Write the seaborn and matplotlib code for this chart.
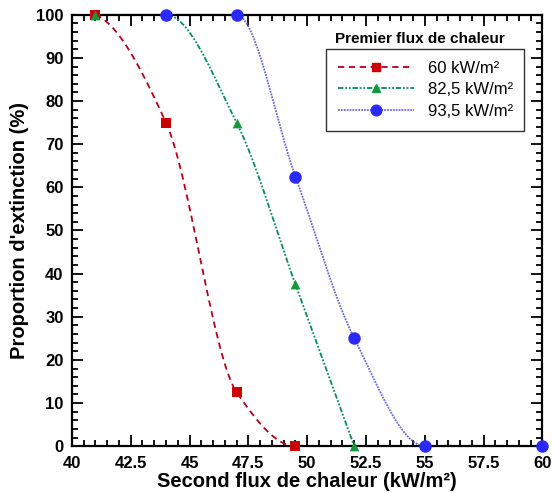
import numpy as np
import pandas as pd
import matplotlib
matplotlib.use("Agg")
import matplotlib.pyplot as plt
import seaborn as sns
from matplotlib.ticker import MultipleLocator, FixedLocator
from matplotlib.lines import Line2D

# Données
x_60 = [41, 44, 47, 49.5]
y_60 = [100, 75, 12.5, 0]
x_825 = [41, 44, 47, 49.5, 52]
y_825 = [100, 100, 75, 37.5, 0]
x_935 = [44, 47, 49.5, 52, 55, 60]
y_935 = [100, 100, 62.5, 25, 0, 0]
noms = ["60 kW/m²", "82,5 kW/m²", "93,5 kW/m²"]
xticks = [40, 42.5, 45, 47.5, 50, 52.5, 55, 57.5, 60]
xticklabels = ["40", "42.5", "45", "47.5", "50", "52.5", "55", "57.5", "60"]


# Lissage monotone (type PCHIP) pour le tracé des courbes
def lisser(x, y, n=60):
    x = np.asarray(x, float)
    y = np.asarray(y, float)
    h = np.diff(x)
    d = np.diff(y) / h
    m = np.zeros_like(x)
    for k in range(1, len(x) - 1):
        if d[k - 1] * d[k] > 0:
            w1 = 2 * h[k] + h[k - 1]
            w2 = h[k] + 2 * h[k - 1]
            m[k] = (w1 + w2) / (w1 / d[k - 1] + w2 / d[k])

    def bord(h0, h1, d0, d1):
        v = ((2 * h0 + h1) * d0 - h0 * d1) / (h0 + h1)
        if np.sign(v) != np.sign(d0):
            return 0.0
        if np.sign(d0) != np.sign(d1) and abs(v) > abs(3 * d0):
            return 3 * d0
        return v

    if len(x) > 2:
        m[0] = bord(h[0], h[1], d[0], d[1])
        m[-1] = bord(h[-1], h[-2], d[-1], d[-2])
    else:
        m[:] = d[0]
    xs, ys = [], []
    for k in range(len(x) - 1):
        t = np.linspace(0, 1, n)
        h00 = 2 * t**3 - 3 * t**2 + 1
        h10 = t**3 - 2 * t**2 + t
        h01 = -2 * t**3 + 3 * t**2
        h11 = t**3 - t**2
        xs.append(x[k] + t * h[k])
        ys.append(h00 * y[k] + h10 * h[k] * m[k] + h01 * y[k + 1] + h11 * h[k] * m[k + 1])
    return np.concatenate(xs), np.concatenate(ys)


sns.set_style("ticks")
plt.rcParams['font.family'] = ['Liberation Sans', 'DejaVu Sans']
plt.rcParams['text.color'] = 'black'
plt.rcParams['axes.labelcolor'] = 'black'
plt.rcParams['xtick.color'] = 'black'
plt.rcParams['ytick.color'] = 'black'

fig = plt.figure(figsize=(5.53, 4.93), dpi=100)
ax = fig.add_axes([0.130, 0.095, 0.851, 0.875])

series = [
    (x_60, y_60, "#b3001b", "#cc0000", (0, (3.5, 2.5)), "s", 6.5),
    (x_825, y_825, "#0a8a5a", "#109a3a", (0, (3, 1, 1, 1, 1, 1)), "^", 7),
    (x_935, y_935, "#6a6ad0", "#2a2aff", (0, (1, 0.6)), "o", 9),
]

handles = []
for (xs, ys, c_line, c_mark, ls, mk, ms), nom in zip(series, noms):
    sx, sy = lisser(xs, ys)
    df_l = pd.DataFrame({"x": sx, "y": sy})
    sns.lineplot(data=df_l, x="x", y="y", sort=False, color=c_line, linestyle=ls,
                 linewidth=1.3, ax=ax, clip_on=False, zorder=2)
    df_p = pd.DataFrame({"x": xs, "y": ys})
    sns.scatterplot(data=df_p, x="x", y="y", marker=mk, s=ms**2, color=c_mark,
                    edgecolor=c_mark, linewidth=0, ax=ax, clip_on=False, zorder=3)
    handles.append(Line2D([], [], color=c_line, linestyle=ls, linewidth=1.3,
                          marker=mk, markersize=ms * 0.85, markerfacecolor=c_mark,
                          markeredgecolor=c_mark))

ax.set_xlim(40, 60)
ax.set_ylim(0, 100)
ax.xaxis.set_major_locator(FixedLocator(xticks))
ax.set_xticklabels(xticklabels)
ax.xaxis.set_minor_locator(MultipleLocator(0.5))
ax.yaxis.set_major_locator(MultipleLocator(10))
ax.yaxis.set_minor_locator(MultipleLocator(2))
ax.tick_params(which="both", direction="in", top=True, right=True, width=1.3,
               colors="black")
ax.tick_params(which="major", length=8, labelsize=12)
ax.tick_params(which="minor", length=4)
ax.tick_params(axis="x", which="major", pad=7)
ax.tick_params(axis="y", which="major", pad=6)
for lab in ax.get_xticklabels() + ax.get_yticklabels():
    lab.set_fontweight("bold")
for sp in ax.spines.values():
    sp.set_linewidth(1.6)
    sp.set_color("black")

ax.set_xlabel("Second flux de chaleur (kW/m²)", fontsize=14.5, fontweight="bold",
              labelpad=1, color="black")
ax.set_ylabel("Proportion d'extinction (%)", fontsize=14.5, fontweight="bold",
              labelpad=5, color="black")

leg = ax.legend(handles=handles, labels=noms, loc="upper left",
                bbox_to_anchor=(0.54, 0.921), frameon=True, fancybox=False,
                edgecolor="black", fontsize=12, handlelength=4.6,
                borderpad=0.7, labelspacing=0.4, handletextpad=0.8,
                borderaxespad=0, labelcolor="black")
leg.get_frame().set_linewidth(1.0)
ax.text(0.74, 0.928, "Premier flux de chaleur", transform=ax.transAxes,
        ha="center", va="bottom", fontsize=11, fontweight="bold", color="black")

fig.savefig("out.png", dpi=100)
